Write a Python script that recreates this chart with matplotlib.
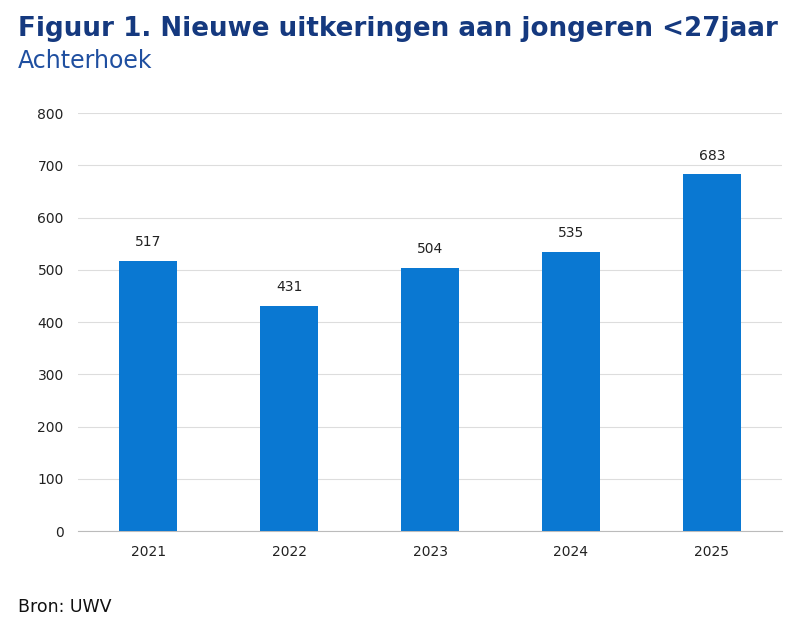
import matplotlib.pyplot as plt

years = ["2021", "2022", "2023", "2024", "2025"]
values = [517, 431, 504, 535, 683]

fig = plt.figure(figsize=(8, 6.39), dpi=100)
ax = fig.add_axes([0.097, 0.169, 0.881, 0.654])

bars = ax.bar(years, values, width=0.41, color="#0a78d2", zorder=3)
for b, v in zip(bars, values):
    ax.text(b.get_x() + b.get_width() / 2, v + 22, str(v), ha="center", va="bottom",
            fontsize=10, color="#222222")

ax.set_ylim(0, 800)
ax.set_yticks(range(0, 801, 100))
ax.set_xlim(-0.5, 4.5)
ax.grid(axis="y", color="#dddddd", linewidth=0.8, zorder=0)
for s in ["top", "right", "left"]:
    ax.spines[s].set_visible(False)
ax.spines["bottom"].set_color("#bbbbbb")
ax.tick_params(axis="both", length=0, labelsize=10, colors="#222222", pad=10)

fig.text(0.022, 0.955, "Figuur 1. Nieuwe uitkeringen aan jongeren <27jaar", fontsize=18.8,
         fontweight="bold", color="#15397f", va="center")
fig.text(0.022, 0.905, "Achterhoek", fontsize=17, color="#1f4fa0", va="center")
fig.text(0.022, 0.05, "Bron: UWV", fontsize=12.5, color="#111111", va="center")

fig.savefig("out.png", dpi=100)
